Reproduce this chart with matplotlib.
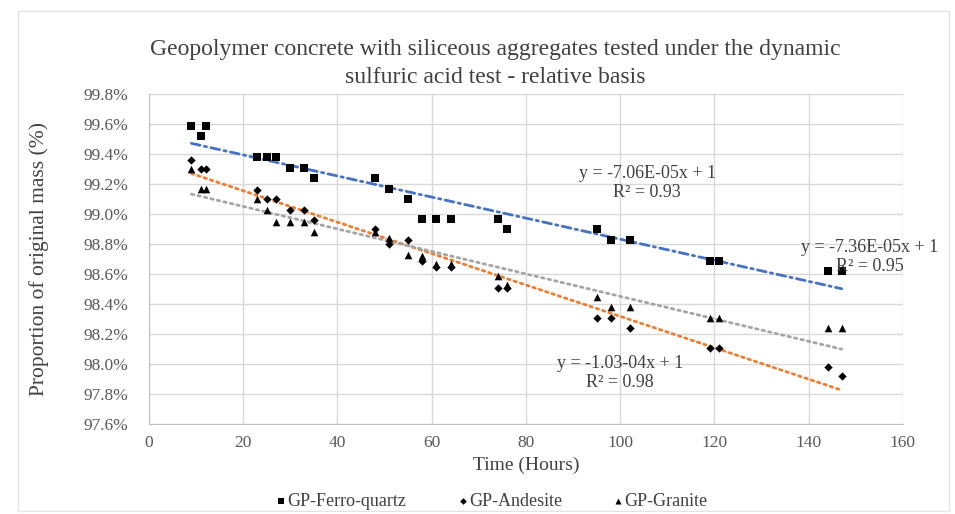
import numpy as np
import matplotlib.pyplot as plt
from matplotlib.ticker import MultipleLocator, FormatStrFormatter
from matplotlib.patches import Rectangle

plt.rcParams['font.family'] = ['Liberation Serif', 'DejaVu Serif']

# exposure time (hours), shared by all three mixes
hours = [9, 11, 12, 23, 25, 27, 30, 33, 35, 48, 51, 55, 58, 61, 64,
         74, 76, 95, 98, 102, 119, 121, 144, 147]

# remaining mass, % of original
ferro_quartz = [99.59, 99.52, 99.59, 99.38, 99.38, 99.38, 99.31, 99.31, 99.24,
                99.24, 99.17, 99.10, 98.97, 98.97, 98.97, 98.97, 98.90,
                98.90, 98.83, 98.83, 98.69, 98.69, 98.62, 98.62]
andesite = [99.36, 99.30, 99.30, 99.16, 99.10, 99.10, 99.03, 99.03, 98.96,
            98.90, 98.80, 98.83, 98.69, 98.65, 98.65, 98.51, 98.51,
            98.31, 98.31, 98.24, 98.11, 98.11, 97.98, 97.92]
granite = [99.30, 99.17, 99.17, 99.10, 99.03, 98.95, 98.95, 98.95, 98.88,
           98.88, 98.84, 98.73, 98.72, 98.67, 98.67, 98.59, 98.53,
           98.45, 98.38, 98.38, 98.31, 98.31, 98.24, 98.24]

series_names = ['GP-Ferro-quartz', 'GP-Andesite', 'GP-Granite']
trend_labels = ['y = -7.06E-05x + 1\nR² = 0.93',
                'y = -1.03-04x + 1\nR² = 0.98',
                'y = -7.36E-05x + 1\nR² = 0.95']

fig = plt.figure(figsize=(9.55, 5.14), dpi=100)
ax = fig.add_axes([0.156, 0.175, 0.7895, 0.642])

x = np.array(hours, dtype=float)
markers = ['s', 'D', '^']
msizes = [26, 18, 30]
trend_colors = ['#4472C4', '#ED7D31', '#A5A5A5']
trend_styles = [(0, (3.2, 1.6, 0.8, 1.6)), (0, (0.9, 1.5)), (0, (0.9, 1.5))]
label_pos = [(105.7, 99.21), (100.0, 97.94), (153.0, 98.715)]

for vals, name, mk, ms, col, ls, lab, pos in zip(
        [ferro_quartz, andesite, granite], series_names, markers, msizes,
        trend_colors, trend_styles, trend_labels, label_pos):
    y = np.array(vals)
    ax.scatter(x, y, marker=mk, s=ms, color='black', zorder=4, label=name,
               linewidths=0)
    # linear trendline over the tested range
    k, b = np.polyfit(x, y, 1)
    xt = np.array([x.min(), x.max()])
    ax.plot(xt, k * xt + b, color=col, lw=2.0, linestyle=ls,
            dash_capstyle='round', zorder=3)
    ax.text(pos[0], pos[1], lab, ha='center', va='center', fontsize=13,
            color='#404040', linespacing=1.15, zorder=5)

ax.set_xlim(0, 160)
ax.set_ylim(97.6, 99.8)
ax.xaxis.set_major_locator(MultipleLocator(20))
ax.yaxis.set_major_locator(MultipleLocator(0.2))
ax.yaxis.set_major_formatter(FormatStrFormatter('%.1f%%'))
ax.grid(True, color='#D9D9D9', lw=1.0)
ax.set_axisbelow(True)
for side in ['top', 'right']:
    ax.spines[side].set_visible(False)
for side in ['left', 'bottom']:
    ax.spines[side].set_color('#BFBFBF')
ax.tick_params(length=0, labelsize=12.5, colors='#595959')
ax.tick_params(axis='y', pad=15)
ax.tick_params(axis='x', pad=8)

ax.set_xlabel('Time (Hours)', fontsize=14, color='#404040', labelpad=4)
ax.set_ylabel('Proportion of original mass (%)', fontsize=15.5,
              color='#404040', labelpad=25)
fig.text(0.519, 0.877,
         'Geopolymer concrete with siliceous aggregates tested under the dynamic\n'
         'sulfuric acid test - relative basis',
         ha='center', va='center', fontsize=17, color='#404040', linespacing=1.45)

fig.legend(loc='center', bbox_to_anchor=(0.512, 0.025), ncol=3, frameon=False,
           fontsize=13, handletextpad=-0.25, handlelength=1.2, columnspacing=2.5,
           labelcolor='#404040', markerscale=0.8)

fig.patches.append(Rectangle((0.019, 0.006), 0.975, 0.972, transform=fig.transFigure,
                             fill=False, edgecolor='#E3E3E3', lw=1.0))

fig.savefig('out.png', dpi=100)
